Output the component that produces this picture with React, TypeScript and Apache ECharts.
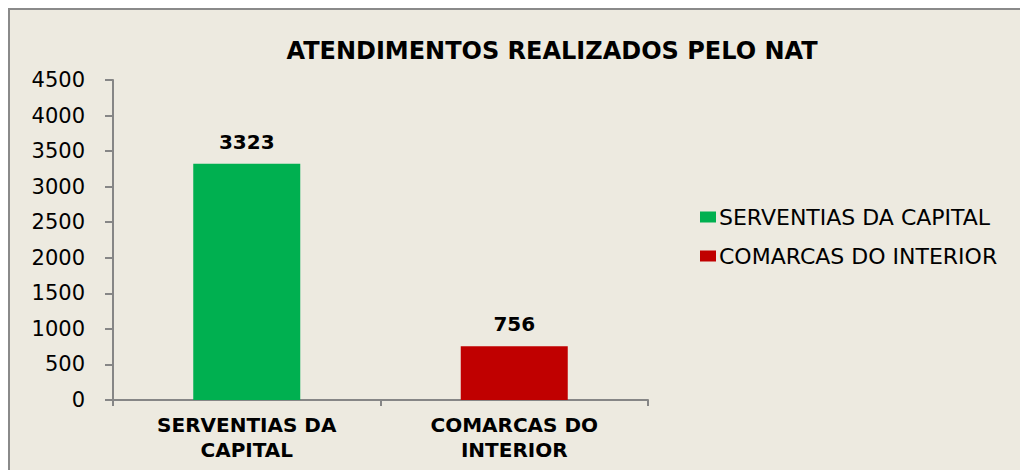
import React, { useEffect, useRef } from "react";
import * as echarts from "echarts";

const categories = ["SERVENTIAS DA\nCAPITAL", "COMARCAS DO\nINTERIOR"];
const seriesNames = ["SERVENTIAS DA CAPITAL", "COMARCAS DO INTERIOR"];
const values = [3323, 756];
const colors = ["#00B050", "#C00000"];
const titleText = "ATENDIMENTOS REALIZADOS PELO NAT";

export default function App() {
  const ref = useRef<HTMLDivElement>(null);
  useEffect(() => {
    document.body.style.overflow = "hidden";
    document.documentElement.style.overflow = "hidden";
    if (!ref.current) return;
    const chart = echarts.init(ref.current, null, { renderer: "svg" });
    const font = "DejaVu Sans";
    chart.setOption({
      animation: false,
      backgroundColor: "#EDEAE0",
      title: {
        text: titleText,
        left: 537,
        top: 24,
        textAlign: "center",
        textStyle: { fontFamily: font, fontWeight: "bold", fontSize: 24, color: "#000" },
      },
      legend: {
        orient: "vertical",
        left: 685,
        top: 191,
        itemWidth: 16,
        itemHeight: 11,
        itemGap: 17,
        icon: "rect",
        textStyle: { fontFamily: font, fontSize: 22, color: "#000", lineHeight: 22, padding: [0, 0, 0, -2] },
        data: seriesNames,
      },
      grid: { left: 103, right: 392, top: 70, bottom: 70 },
      xAxis: {
        type: "category",
        data: categories,
        axisLine: { lineStyle: { color: "#868686", width: 2 } },
        axisTick: { show: true, length: 6, lineStyle: { color: "#868686", width: 2 } },
        axisLabel: {
          fontFamily: font,
          fontWeight: "bold",
          fontSize: 20,
          color: "#000",
          lineHeight: 25,
          margin: 12,
          interval: 0,
        },
      },
      yAxis: {
        type: "value",
        min: 0,
        max: 4500,
        interval: 500,
        splitLine: { show: false },
        axisLine: { show: true, lineStyle: { color: "#868686", width: 2 } },
        axisTick: { show: true, length: 8, lineStyle: { color: "#868686", width: 2 } },
        axisLabel: { fontFamily: font, fontSize: 21, color: "#000", margin: 28, formatter: (v: number) => String(v) },
      },
      series: seriesNames.map((name, i) => ({
        name,
        type: "bar",
        stack: "s",
        barWidth: 107,
        itemStyle: { color: colors[i] },
        data: values.map((v, j) => (j === i ? v : "-")),
        label: {
          show: true,
          position: "top",
          distance: 12,
          fontFamily: font,
          fontWeight: "bold",
          fontSize: 20,
          color: "#000",
        },
      })),
    });
    return () => chart.dispose();
  }, []);
  return (
    <div style={{ borderTop: "2px solid #8a8a8a", borderLeft: "2px solid #8a8a8a", width: 1030, height: 460, overflow: "hidden" }}>
      <div ref={ref} style={{ width: 1030, height: 460 }} />
    </div>
  );
}
